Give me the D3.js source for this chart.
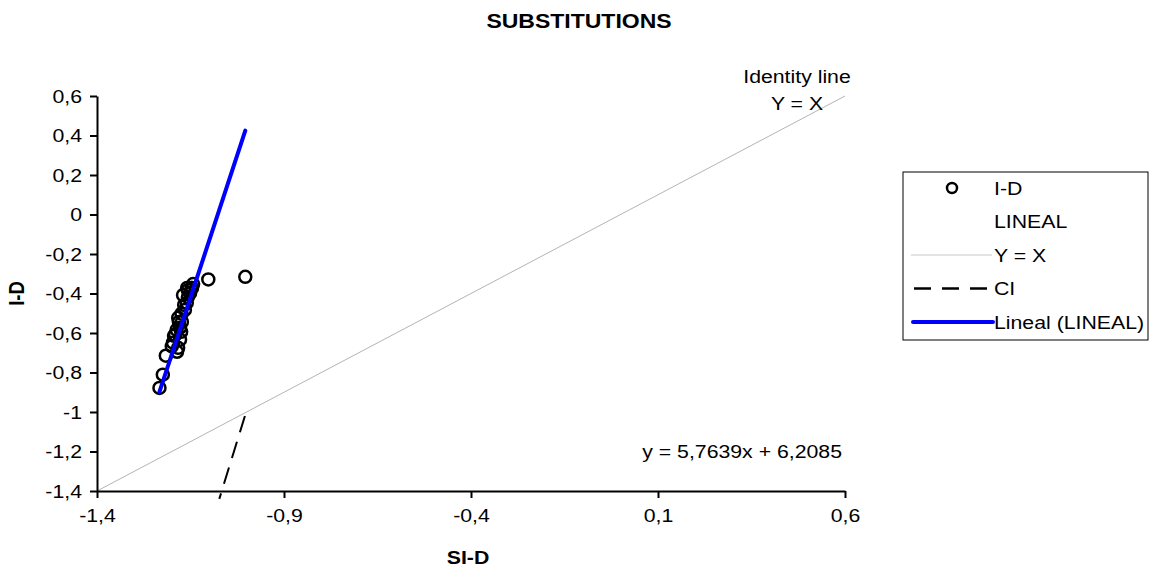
<!DOCTYPE html>
<html>
<head>
<meta charset="utf-8">
<script src="https://cdn.jsdelivr.net/npm/d3@7"></script>
<style>
  body { margin: 0; background: #fff; }
  text { font-family: "Liberation Sans", Arial, sans-serif; fill: #000; }
</style>
</head>
<body>
<div id="chart"></div>
<script>
// data
const siD = [-1.233, -1.224, -1.216, -1.200, -1.183, -1.178, -1.187, -1.178, -1.183, -1.174,
             -1.160, -1.170, -1.151, -1.143, -1.165, -1.173, -1.194, -1.157, -1.147,
             -1.191, -1.167, -1.157, -1.181, -1.197, -1.146, -1.159, -1.175, -1.186,
             -1.1024, -1.0035];
const iD  = [-0.878, -0.811, -0.715, -0.668, -0.675, -0.634, -0.584, -0.573, -0.523, -0.502,
             -0.448, -0.408, -0.398, -0.352, -0.483, -0.544, -0.614, -0.383, -0.372,
             -0.609, -0.458, -0.418, -0.544, -0.649, -0.372, -0.372, -0.594, -0.695,
             -0.3285, -0.3154];
const xTicks = [-1.4, -0.9, -0.4, 0.1, 0.6];
const yTicks = [-1.4, -1.2, -1, -0.8, -0.6, -0.4, -0.2, 0, 0.2, 0.4, 0.6];
const identityLine = [[-1.4, -1.4], [0.6, 0.6]];
const ciLine = [[-1.0045, -1.02], [-1.073, -1.44]];
const trendSlope = 5.7639;
const trendIntercept = 6.2085;
const legendItems = ["I-D", "LINEAL", "Y = X", "CI", "Lineal (LINEAL)"];

const width = 1158, height = 571;
const margin = { top: 96, left: 97, right: 313, bottom: 80 };
const plotW = width - margin.left - margin.right;
const plotH = height - margin.top - margin.bottom;
const sx = 1.15;      // chart text is stretched horizontally
const fs = 18.5;

const comma = d => String(+d.toFixed(4)).replace(".", ",");

const svg = d3.select("#chart").append("svg")
  .attr("width", width)
  .attr("height", height);

function label (parent, x, y, txt, anchor, size, bold, rot) {
  return parent.append("text")
    .attr("transform", `translate(${x},${y}) scale(${sx},1)` + (rot ? ` rotate(${rot})` : ""))
    .attr("text-anchor", anchor)
    .attr("font-size", size)
    .attr("font-weight", bold ? "bold" : "normal")
    .text(txt);
}

// titles
label(svg, width / 2, 28, "SUBSTITUTIONS", "middle", 20, true);
label(svg, margin.left + plotW / 2 - 3, 564, "SI-D", "middle", 18.5, true);
label(svg, 24, margin.top + plotH / 2, "I-D", "middle", 18.5, true, -90);

const g = svg.append("g")
  .attr("transform", `translate(${margin.left},${margin.top})`);

const x = d3.scaleLinear().domain([-1.4, 0.6]).range([0, plotW]);
const y = d3.scaleLinear().domain([-1.4, 0.6]).range([plotH, 0]);

// identity line
const line = d3.line().x(d => x(d[0])).y(d => y(d[1]));
g.append("path")
  .attr("d", line(identityLine))
  .attr("fill", "none")
  .attr("stroke", "#b4b4b4")
  .attr("stroke-width", 1);

// CI
g.append("path")
  .attr("d", line(ciLine))
  .attr("fill", "none")
  .attr("stroke", "#000")
  .attr("stroke-width", 2)
  .attr("stroke-dasharray", "17,10");

// axes
const xAxis = d3.axisBottom(x)
  .tickValues(xTicks)
  .tickSize(7)
  .tickSizeOuter(0)
  .tickFormat(comma);
const xg = g.append("g")
  .attr("transform", `translate(0,${plotH})`)
  .call(xAxis);

const yAxis = d3.axisLeft(y)
  .tickValues(yTicks)
  .tickSize(7)
  .tickSizeOuter(0)
  .tickFormat(comma);
const yg = g.append("g").call(yAxis);

[xg, yg].forEach(a => {
  a.select(".domain").attr("stroke", "#000").attr("stroke-width", 2);
  a.selectAll(".tick line").attr("stroke", "#000").attr("stroke-width", 2);
  a.selectAll(".tick text")
    .attr("font-size", fs)
    .attr("font-family", "Liberation Sans, Arial, sans-serif");
});
xg.selectAll(".tick text")
  .attr("y", 0).attr("dy", 0)
  .attr("transform", `translate(0,31) scale(${sx},1)`);
yg.selectAll(".tick text")
  .attr("x", 0).attr("dy", "0.35em")
  .attr("transform", `translate(-15,0) scale(${sx},1)`);

// points
g.selectAll("circle.pt")
  .data(siD.map((v, i) => [v, iD[i]]))
  .enter()
  .append("circle")
    .attr("class", "pt")
    .attr("cx", d => x(d[0]))
    .attr("cy", d => y(d[1]))
    .attr("r", 6)
    .attr("fill", "none")
    .attr("stroke", "#000")
    .attr("stroke-width", 2.5);

// trendline over data range
const xr = d3.extent(siD);
g.append("path")
  .attr("d", line(xr.map(v => [v, trendSlope * v + trendIntercept])))
  .attr("fill", "none")
  .attr("stroke", "#0000ff")
  .attr("stroke-width", 4)
  .attr("stroke-linecap", "round");

// annotations
label(g, 700, -13, "Identity line", "middle", fs);
label(g, 700, 14, "Y = X", "middle", fs);
label(g, 745, 362, `y = ${comma(trendSlope)}x + ${comma(trendIntercept)}`, "end", fs);

// legend
const lg = svg.append("g").attr("transform", "translate(903,172)");
lg.append("rect")
  .attr("width", 245).attr("height", 168)
  .attr("fill", "#fff").attr("stroke", "#000").attr("stroke-width", 1);

const rowY = i => 16 + i * 33.5;
legendItems.forEach((t, i) => label(lg, 91, rowY(i) + 6.5, t, "start", fs));
lg.append("circle")
  .attr("cx", 49).attr("cy", rowY(0))
  .attr("r", 5).attr("fill", "none").attr("stroke", "#000").attr("stroke-width", 2.5);
lg.append("line")
  .attr("x1", 8).attr("x2", 89).attr("y1", rowY(2)).attr("y2", rowY(2))
  .attr("stroke", "#c8c8c8").attr("stroke-width", 1);
lg.append("line")
  .attr("x1", 11).attr("x2", 84).attr("y1", rowY(3)).attr("y2", rowY(3))
  .attr("stroke", "#000").attr("stroke-width", 2.5).attr("stroke-dasharray", "17,11");
lg.append("line")
  .attr("x1", 10).attr("x2", 90).attr("y1", rowY(4)).attr("y2", rowY(4))
  .attr("stroke", "#0000ff").attr("stroke-width", 4).attr("stroke-linecap", "round");
</script>
</body>
</html>
